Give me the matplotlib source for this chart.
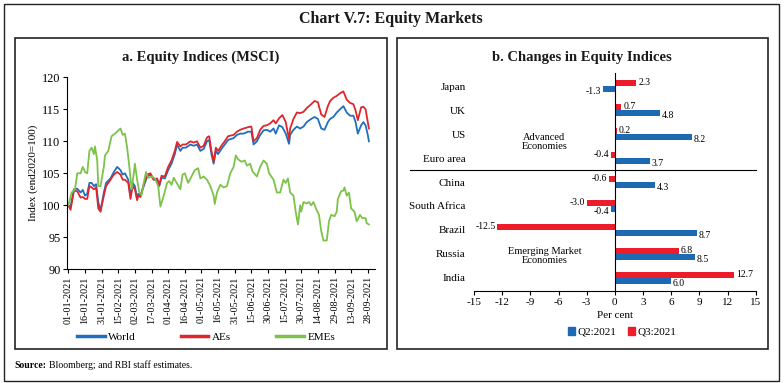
import numpy as np
import pandas as pd
import matplotlib
matplotlib.use("Agg")
import matplotlib.pyplot as plt
from matplotlib.patches import Rectangle, Patch

# ---------------- data ----------------
# Panel a: MSCI indices (end-2020 = 100); days counted from 01-01-2021
days_dm = [0, 2, 5, 8, 11, 13, 15, 17, 19, 21, 23, 25, 27, 29, 32, 34, 38, 41, 44, 47,
           49, 51, 54, 56, 58, 60, 62, 63, 65, 68, 71, 74, 77, 80, 82, 84, 87, 90, 93, 96,
           98, 101, 103, 106, 110, 113, 116, 119, 122, 125, 127, 129, 131, 133, 135, 138,
           141, 144, 149, 152, 155, 158, 162, 165, 167, 170, 173, 176, 179, 182, 185, 187,
           190, 193, 196, 199, 200, 203, 206, 209, 212, 215, 219, 222, 225, 228, 231, 234,
           236, 239, 242, 245, 248, 251, 254, 257, 259, 261, 264, 266, 268, 270, 271]
world = [100, 99.8, 102.5, 102.6, 102, 102.4, 101.5, 101.8, 103.5, 103.5, 103, 103.3, 100.5,
         99.2, 102, 103.5, 104.2, 105.2, 106, 105.5, 104.8, 105, 104, 101.5, 103.5, 103, 101,
         101.8, 101.5, 103, 104.5, 104.8, 104, 104, 103, 104.3, 104.2, 105.5, 106.5, 108,
         109.5, 108.5, 109, 109, 109.5, 109.3, 109.5, 108.5, 108.8, 110, 110.2, 108, 106.5,
         108.5, 108, 108.8, 109.5, 110.2, 110.5, 111, 111.2, 111.2, 111.5, 111.5, 109.5, 110,
         111, 111.7, 111.8, 111.5, 112, 111.2, 112.5, 112.2, 111.2, 109.6, 111, 111.8, 112.3,
         112, 112.3, 113, 113.5, 113.8, 113.5, 112, 111.8, 113, 113.5, 113.8, 114.5, 115,
         115.5, 114.5, 114, 114, 113, 111.2, 112.5, 113, 112.5, 111, 110]
aes = [100, 99.3, 102.3, 102.2, 101.2, 101.3, 101, 101, 103, 102.8, 102.5, 102.8, 99.5, 99,
       101.5, 103, 104, 104.8, 105.2, 104.8, 104, 104, 103.5, 101, 103, 102.5, 100.8, 101.5,
       101.3, 103.3, 104.8, 105, 104, 104.2, 103.2, 104.6, 104.5, 106, 107, 108.5, 109.9,
       109.2, 109.5, 109.5, 110, 109.8, 110, 109, 109.3, 110.6, 110.8, 108.5, 106.8, 109,
       108.5, 109.3, 110, 110.8, 111, 111.5, 111.8, 112, 112.2, 112.3, 110, 110.5, 111.8,
       112.4, 112.5, 112.8, 113.3, 112.8, 113.6, 114.1, 113, 110.3, 112, 113.5, 114.5, 114.4,
       114.6, 115.2, 115.8, 116.3, 116.1, 114.2, 113.8, 115.5, 116.3, 116.8, 117.1, 117.5,
       117.8, 116.5, 116, 115.8, 114.8, 113.3, 115.3, 115.4, 115, 113, 112]
days_em = [0, 3, 6, 8, 11, 13, 15, 17, 19, 21, 23, 24, 26, 27, 29, 32, 33, 36, 39, 42, 47, 49,
           51, 53, 55, 57, 59, 60, 62, 64, 66, 68, 70, 72, 75, 78, 81, 83, 86, 89, 91, 93, 95,
           98, 101, 103, 105, 108, 111, 114, 117, 119, 122, 125, 128, 131, 132, 134, 137, 140,
           143, 146, 149, 151, 153, 156, 159, 161, 164, 166, 170, 173, 176, 179, 181, 185, 188,
           191, 194, 196, 198, 200, 203, 205, 207, 209, 210, 212, 215, 217, 219, 221, 224, 226,
           228, 230, 233, 235, 237, 240, 242, 243, 246, 248, 249, 251, 253, 255, 258, 260, 263,
           265, 268, 269, 271]
emes = [100, 102, 102.5, 105, 105, 106, 105.2, 105, 108.5, 109, 108, 109.2, 107, 103, 103,
        106, 107.8, 108.5, 110.8, 111.2, 112, 111, 111.2, 109, 106, 102.5, 105, 106.5, 104,
        102, 101.6, 103.5, 105.2, 104.3, 104.5, 104.2, 103, 99.8, 101.5, 103.5, 103.8, 103.2,
        104.3, 103.4, 102.5, 104.8, 105, 103.5, 104.5, 105.5, 105.8, 104.2, 104.5, 104, 103,
        101.5, 100.2, 102, 103.2, 102.8, 103, 105, 106, 107.8, 107.2, 106.8, 107, 106.2, 106.5,
        105.3, 104.5, 106, 107, 106.5, 105, 104, 102, 102, 104, 103.5, 104.2, 102, 101.5, 99,
        97, 100, 99, 100.5, 100.3, 100.5, 100, 100.5, 99.2, 98.5, 96, 94.5, 94.5, 97.5, 98.5,
        98.3, 99, 101, 102.2, 102.3, 102.8, 101.5, 102, 99.5, 99, 97.5, 98.5, 98, 98, 97.2, 97]

# Panel b: changes in equity indices (per cent)
countries = ["Japan", "UK", "US", "Euro area", "China", "South Africa", "Brazil", "Russia", "India"]
q2_2021 = [-1.3, 4.8, 8.2, 3.7, 4.3, -0.4, 8.7, 8.5, 6.0]
q3_2021 = [2.3, 0.7, 0.2, -0.4, -0.6, -3.0, -12.5, 6.8, 12.7]

# ---------------- style ----------------
SERIF = ["Liberation Serif", "DejaVu Serif"]
plt.rcParams["font.family"] = SERIF
plt.rcParams["axes.unicode_minus"] = False
BLUE_L = "#1F6FC0"
RED_L = "#E0262B"
GREEN_L = "#7DC24B"
BLUE_B = "#1C6AB4"
RED_B = "#EC1C2A"

W, H = 784, 383
fig = plt.figure(figsize=(W / 100, H / 100), dpi=100)


def box(x0, y0, x1, y1, lw=1.2):
    fig.add_artist(Rectangle((x0 / W, 1 - y1 / H), (x1 - x0) / W, (y1 - y0) / H,
                             transform=fig.transFigure, fill=False, ec="#222222", lw=lw))


def axrect(x0, y0, x1, y1):
    return [x0 / W, 1 - y1 / H, (x1 - x0) / W, (y1 - y0) / H]


box(4, 4, 779, 381, lw=1.0)
box(15, 38, 387, 349)
box(397, 38, 768, 349)

fig.text(391 / W, 1 - 19 / H, "Chart V.7: Equity Markets", ha="center", va="center",
         fontsize=11.5, fontweight="bold", color="#1a1a1a")
fig.text(201 / W, 1 - 57 / H, "a. Equity Indices (MSCI)", ha="center", va="center",
         fontsize=10.5, fontweight="bold", color="#1a1a1a")
fig.text(582 / W, 1 - 57 / H, "b. Changes in Equity Indices", ha="center", va="center",
         fontsize=10.5, fontweight="bold", color="#1a1a1a")
src = fig.text(14 / W, 1 - 365 / H, "Source:", ha="left", va="center", fontsize=7,
               fontweight="bold")

# ---------------- panel a ----------------
base = pd.Timestamp("2021-01-01")
x_dm = base + pd.to_timedelta(days_dm, unit="D")
x_em = base + pd.to_timedelta(days_em, unit="D")

ax1 = fig.add_axes(axrect(66.7, 77.3, 375, 269.3))
ax1.plot(x_dm, world, color=BLUE_L, lw=1.3, label="World")
ax1.plot(x_dm, aes, color=RED_L, lw=1.3, label="AEs")
ax1.plot(x_em, emes, color=GREEN_L, lw=1.3, label="EMEs")
ax1.set_ylim(90, 120)
ax1.set_yticks(np.arange(90, 121, 5))
ax1.set_xlim(base - pd.Timedelta(days=1.5), base + pd.Timedelta(days=276.5))
xt = pd.date_range("2021-01-01", periods=19, freq="15D")
ax1.set_xticks(xt)
ax1.set_xticklabels([d.strftime("%d-%m-%Y") for d in xt], rotation=90, fontsize=7.3)
ax1.tick_params(axis="y", labelsize=8.8, length=3, width=0.8, pad=1.5)
ax1.tick_params(axis="x", length=3, width=0.8, pad=2)
for s in ["top", "right"]:
    ax1.spines[s].set_visible(False)
for s in ["left", "bottom"]:
    ax1.spines[s].set_linewidth(0.8)
ax1.set_ylabel("Index (end2020=100)", fontsize=8, labelpad=3)
ax1.legend(loc="center", bbox_to_anchor=(206 / W, 1 - 337 / H), bbox_transform=fig.transFigure,
           ncol=3, frameon=False, fontsize=8, handlelength=2.5, handletextpad=0.35,
           columnspacing=4.0)
for ln in ax1.get_legend().get_lines():
    ln.set_linewidth(2.5)

ax1.annotate("Bloomberg; and RBI staff estimates.", xy=(1, 0.5), xycoords=src,
             xytext=(2, 0), textcoords="offset points", ha="left", va="center",
             fontsize=7, annotation_clip=False)

# ---------------- panel b ----------------
ax2 = fig.add_axes(axrect(474, 73.3, 755.7, 290.7))
pos = np.arange(len(countries))
bh = 0.24
bq2 = ax2.barh(pos + bh / 2, q2_2021, height=bh, color=BLUE_B, label="Q2:2021")
bq3 = ax2.barh(pos - bh / 2, q3_2021, height=bh, color=RED_B, label="Q3:2021")
ax2.set_xlim(-15, 15)
ax2.set_ylim(len(countries) - 0.47, -0.53)
ax2.set_xticks(np.arange(-15, 16, 3))
ax2.set_yticks(pos)
ax2.set_yticklabels(countries, fontsize=8)
ax2.tick_params(axis="y", length=0, pad=6)
ax2.tick_params(axis="x", labelsize=8, length=3, width=0.8, pad=2)
for s in ["top", "right", "left"]:
    ax2.spines[s].set_visible(False)
ax2.spines["bottom"].set_linewidth(0.8)
ax2.axvline(0, color="black", lw=0.8)
ax2.axhline(3.5, xmin=-0.227, xmax=1.0, color="black", lw=0.8, clip_on=False)
for bars, dy in ((bq2, 0.12), (bq3, -0.04)):
    for b in bars:
        v = b.get_width()
        yc = b.get_y() + b.get_height() / 2 + dy
        if v >= 0:
            ax2.text(v + 0.2, yc, f"{v:.1f}", ha="left", va="center", fontsize=7)
        else:
            ax2.text(v - 0.2, yc, f"{v:.1f}", ha="right", va="center", fontsize=7)
ax2.text(-7.5, 2.33, "Advanced\nEconomies", ha="center", va="center", fontsize=7.5,
         linespacing=1.1)
ax2.text(-7.5, 7.08, "Emerging Market\nEconomies", ha="center", va="center", fontsize=7.5,
         linespacing=1.1)
ax2.set_xlabel("Per cent", fontsize=8, labelpad=3)
handles = [Patch(color=BLUE_B, label="Q2:2021"), Patch(color=RED_B, label="Q3:2021")]
ax2.legend(handles=handles, loc="center", bbox_to_anchor=(622 / W, 1 - 332 / H),
           bbox_transform=fig.transFigure, ncol=2, frameon=False, fontsize=8,
           handlelength=0.7, handleheight=0.7, handletextpad=0.2, columnspacing=1.0)

fig.savefig("out.png", dpi=100)
